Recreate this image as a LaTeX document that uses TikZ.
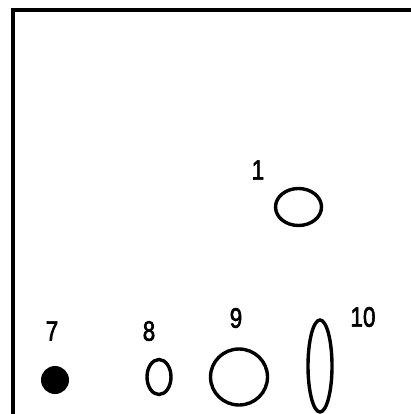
\documentclass[tikz,border=0pt]{standalone}
\usepackage{fontspec}
\setmainfont{Liberation Sans}
\newfontface\lblfont{Liberation Sans}[FakeBold=2.5]
\usetikzlibrary{shapes.geometric}
\begin{document}
\begin{tikzpicture}[x=1pt,y=-1pt,
  lbl/.style={inner sep=0pt,font=\lblfont\fontsize{28}{28}\selectfont,xscale=0.8},
  ring/.style={draw,line width=3.4pt,ellipse,inner sep=0pt},
  dotfill/.style={fill,circle,inner sep=0pt,minimum size=28pt}]
\useasboundingbox (0,0) rectangle (411,414);
\begin{scope}
\clip (0,0) rectangle (411,414);
\coordinate (fbl) at (13,420);
\coordinate (ftl) at (13,10);
\coordinate (ftr) at (420,10);
\draw[line width=3.8pt] (fbl) -- (ftl) -- (ftr);
\node[ring,minimum width=46pt,minimum height=37pt] (e1) at (298.5,207) {};
\node[dotfill] (e7) at (55,380) {};
\node[ring,minimum width=24pt,minimum height=35pt] (e8) at (159,377) {};
\node[ring,minimum width=57pt,minimum height=56pt] (e9) at (239,377) {};
\node[ring,minimum width=24pt,minimum height=92pt] (e10) at (320,366) {};
\end{scope}
\node[lbl] (l1) at (258,170) {1};
\node[lbl] (l7) at (52,331) {7};
\node[lbl] (l8) at (149,331) {8};
\node[lbl] (l9) at (236,318) {9};
\node[lbl] (l10) at (363,317) {10};
\end{tikzpicture}
\end{document}
